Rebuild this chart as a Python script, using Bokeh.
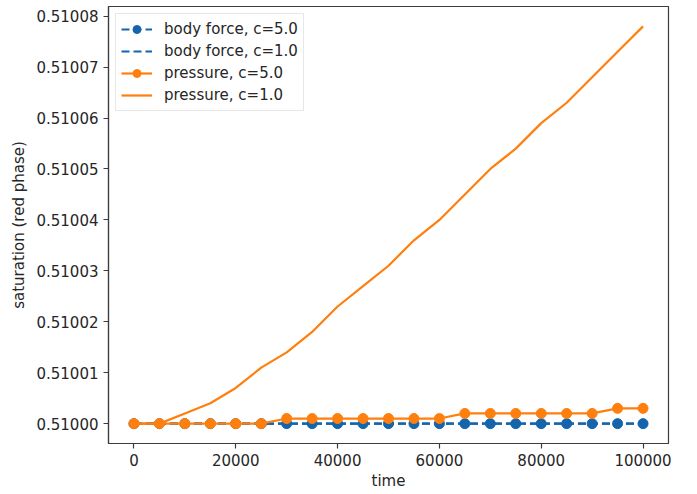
from bokeh.plotting import figure
from bokeh.models import Range1d, FixedTicker, PrintfTickFormatter, Legend, LegendItem
from bokeh.embed import file_html
from bokeh.resources import INLINE

# Simulation output times
time = [0, 5000, 10000, 15000, 20000, 25000, 30000, 35000, 40000, 45000, 50000,
        55000, 60000, 65000, 70000, 75000, 80000, 85000, 90000, 95000, 100000]

# Red-phase saturation per run
body_force_c5 = [0.51000] * 21
body_force_c1 = [0.51000] * 21
pressure_c5 = [0.510000, 0.510000, 0.510000, 0.510000, 0.510000, 0.510000,
               0.510001, 0.510001, 0.510001, 0.510001, 0.510001, 0.510001,
               0.510001, 0.510002, 0.510002, 0.510002, 0.510002, 0.510002,
               0.510002, 0.510003, 0.510003]
pressure_c1 = [0.510000, 0.510000, 0.510002, 0.510004, 0.510007, 0.510011,
               0.510014, 0.510018, 0.510023, 0.510027, 0.510031, 0.510036,
               0.510040, 0.510045, 0.510050, 0.510054, 0.510059, 0.510063,
               0.510068, 0.510073, 0.510078]

x_ticks = [0, 20000, 40000, 60000, 80000, 100000]
y_ticks = [0.51000, 0.51001, 0.51002, 0.51003, 0.51004, 0.51005, 0.51006, 0.51007, 0.51008]

BLUE = "#1565ad"
ORANGE = "#ff7f0e"
FONT = "DejaVu Sans"
TEXT = "#262626"
SPINE = "#3c3c3c"

p = figure(width=697, height=494, output_backend="svg", toolbar_location=None,
           x_range=Range1d(-5000, 105000), y_range=Range1d(0.5099961, 0.5100819),
           min_border_left=108, min_border_right=29, min_border_top=6, min_border_bottom=51)

p.grid.visible = False
p.background_fill_color = "white"
p.border_fill_color = "white"
p.outline_line_color = SPINE
p.outline_line_width = 1.2

# series
bf5_line = p.line(time, body_force_c5, line_color=BLUE, line_width=2.2, line_dash="8 4")
bf5_pts = p.scatter(time, body_force_c5, size=10, fill_color=BLUE, line_color=BLUE)
bf1_line = p.line(time, body_force_c1, line_color=BLUE, line_width=2.2, line_dash="8 4")
pr5_line = p.line(time, pressure_c5, line_color=ORANGE, line_width=2.2)
pr5_pts = p.scatter(time, pressure_c5, size=10, fill_color=ORANGE, line_color=ORANGE)
pr1_line = p.line(time, pressure_c1, line_color=ORANGE, line_width=2.2)

legend = Legend(items=[
    LegendItem(label="body force, c=5.0", renderers=[bf5_line, bf5_pts]),
    LegendItem(label="body force, c=1.0", renderers=[bf1_line]),
    LegendItem(label="pressure, c=5.0", renderers=[pr5_line, pr5_pts]),
    LegendItem(label="pressure, c=1.0", renderers=[pr1_line]),
], location="top_left")
legend.margin = 7
legend.padding = 5
legend.spacing = 2
legend.glyph_width = 31
legend.glyph_height = 20
legend.label_height = 20
legend.label_standoff = 12
legend.label_text_font = FONT
legend.label_text_font_size = "15px"
legend.label_text_color = TEXT
legend.border_line_color = "#d0d0d0"
legend.border_line_width = 1
legend.background_fill_alpha = 0.8
p.add_layout(legend)

for ax in (p.xaxis[0], p.yaxis[0]):
    ax.major_label_text_font = FONT
    ax.major_label_text_font_size = "15px"
    ax.major_label_text_color = TEXT
    ax.axis_label_text_font = FONT
    ax.axis_label_text_font_size = "15px"
    ax.axis_label_text_font_style = "normal"
    ax.axis_label_text_color = TEXT
    ax.axis_line_color = SPINE
    ax.axis_line_width = 1.2
    ax.major_tick_line_color = SPINE
    ax.major_tick_line_width = 1.2
    ax.major_tick_out = 5
    ax.major_tick_in = 0
    ax.minor_tick_out = 0
    ax.minor_tick_in = 0
    ax.major_label_standoff = 5

p.xaxis.ticker = FixedTicker(ticks=x_ticks)
p.xaxis.formatter = PrintfTickFormatter(format="%d")
p.xaxis.axis_label = "time"
p.xaxis.axis_label_standoff = 3

p.yaxis.ticker = FixedTicker(ticks=y_ticks)
p.yaxis.formatter = PrintfTickFormatter(format="%.5f")
p.yaxis.axis_label = "saturation (red phase)"
p.yaxis.axis_label_standoff = 5

open("out.html", "w").write(file_html(p, INLINE))
